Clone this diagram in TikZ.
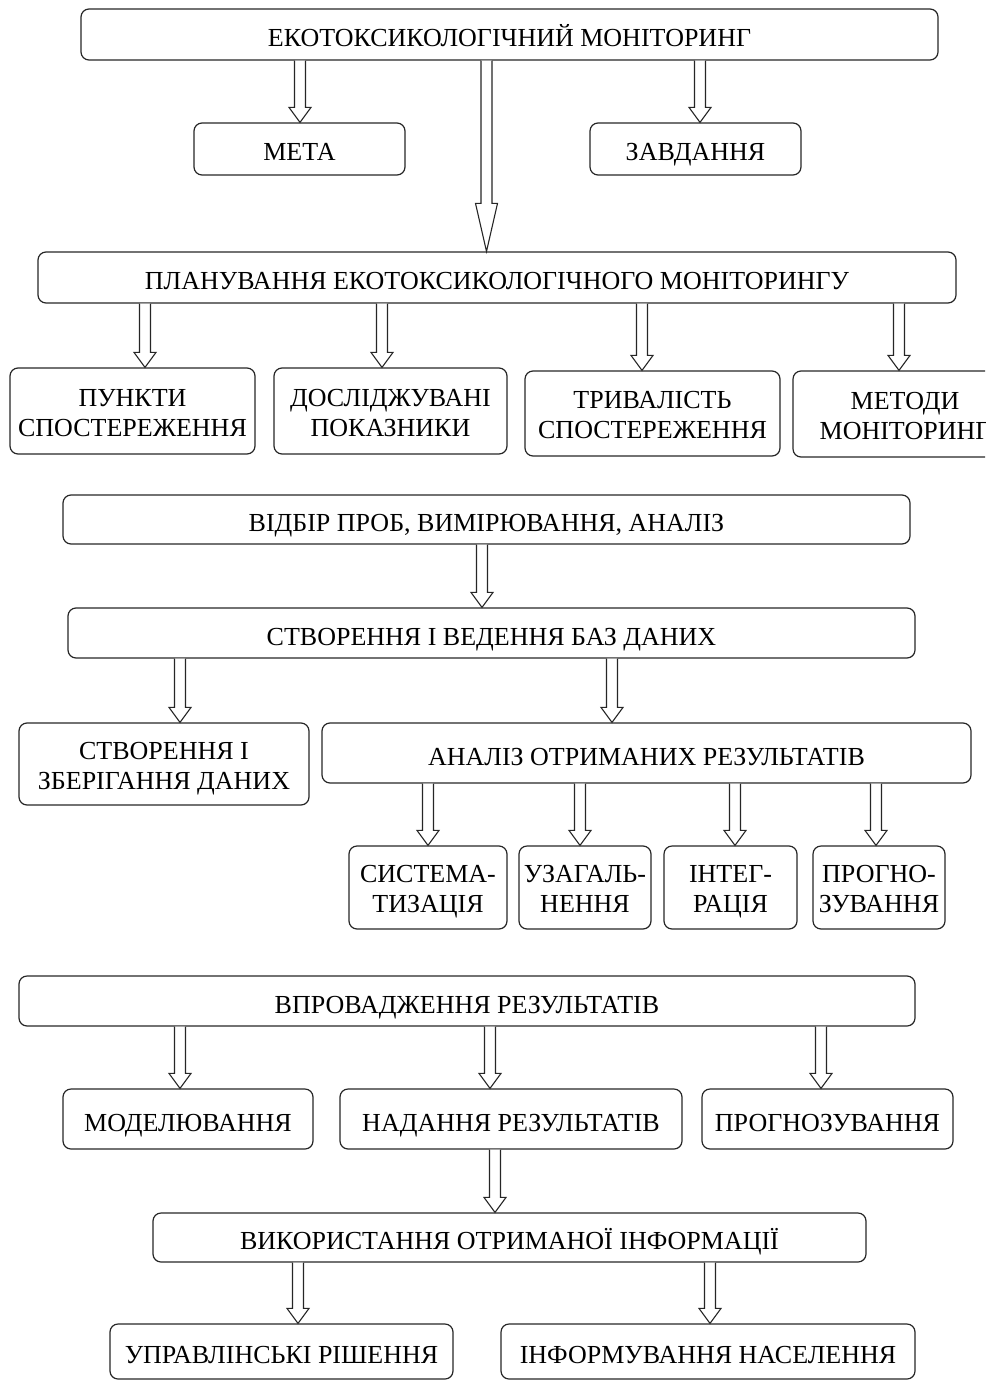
\documentclass[tikz,border=0pt]{standalone}
\usepackage{fontspec}
\setmainfont{Liberation Serif}
\usetikzlibrary{calc}
\newcommand\barr[4][15]{%
  \draw[barrowstyle] let \p1=(#3.south), \p2=(#4.north) in
    ({#2pt-5.5pt},\y1) -- ({#2pt-5.5pt},{\y2+#1pt}) -- ({#2pt-11pt},{\y2+#1pt})
    -- ({#2pt},\y2) -- ({#2pt+11pt},{\y2+#1pt}) -- ({#2pt+5.5pt},{\y2+#1pt})
    -- ({#2pt+5.5pt},\y1);}
\newcommand\toprule{\rule{0pt}{31pt}}
\newcommand\toprulet{\rule{0pt}{57pt}}
\newcommand\botrule{\rule[-7pt]{0pt}{0pt}}
\begin{document}
\begin{tikzpicture}[x=1pt,y=-1pt,
  box/.style={draw=black!85, line width=1.2pt, rounded corners=8pt,
    font=\fontsize{26}{30}\selectfont, align=center, inner sep=0pt,
    execute at begin node=\toprule, execute at end node=\botrule},
  two/.style={execute at begin node=\toprulet},
  barrowstyle/.style={draw=black!85, line width=1.1pt, fill=white, line join=miter}]
\path[use as bounding box, clip] (0,0) rectangle (985,1380);
% boxes
\node[box, minimum width=857, minimum height=51] (top) at (509.5,34.5) {ЕКОТОКСИКОЛОГІЧНИЙ МОНІТОРИНГ};
\node[box, minimum width=211, minimum height=52] (meta) at (299.5,149) {МЕТА};
\node[box, minimum width=211, minimum height=52] (zavd) at (695.5,149) {ЗАВДАННЯ};
\node[box, minimum width=918, minimum height=51] (plan) at (497,277.5) {ПЛАНУВАННЯ ЕКОТОКСИКОЛОГІЧНОГО МОНІТОРИНГУ};
\node[box, two, minimum width=245, minimum height=86] (punkty) at (132.5,411) {ПУНКТИ\\СПОСТЕРЕЖЕННЯ};
\node[box, two, minimum width=233, minimum height=86] (dosl) at (390.5,411) {ДОСЛІДЖУВАНІ\\ПОКАЗНИКИ};
\node[box, two, minimum width=255, minimum height=85] (tryv) at (652.5,413.5) {ТРИВАЛІСТЬ\\СПОСТЕРЕЖЕННЯ};
\node[box, two, minimum width=224, minimum height=86] (metody) at (905,414) {МЕТОДИ\\МОНІТОРИНГ};
\node[box, minimum width=847, minimum height=49] (vidbir) at (486.5,519.5) {ВІДБІР ПРОБ, ВИМІРЮВАННЯ, АНАЛІЗ};
\node[box, minimum width=847, minimum height=50] (bazy) at (491.5,633) {СТВОРЕННЯ І ВЕДЕННЯ БАЗ ДАНИХ};
\node[box, two, minimum width=290, minimum height=82] (zber) at (164,764) {СТВОРЕННЯ І\\ЗБЕРІГАННЯ ДАНИХ};
\node[box, minimum width=649, minimum height=60] (analiz) at (646.5,753) {АНАЛІЗ ОТРИМАНИХ РЕЗУЛЬТАТІВ};
\node[box, two, minimum width=158, minimum height=83] (sys) at (428,887.5) {СИСТЕМА-\\ТИЗАЦІЯ};
\node[box, two, minimum width=132, minimum height=83] (uzag) at (585,887.5) {УЗАГАЛЬ-\\НЕННЯ};
\node[box, two, minimum width=133, minimum height=83] (integ) at (730.5,887.5) {ІНТЕГ-\\РАЦІЯ};
\node[box, two, minimum width=132, minimum height=83] (progn) at (879,887.5) {ПРОГНО-\\ЗУВАННЯ};
\node[box, minimum width=896, minimum height=50] (vprov) at (467,1001) {ВПРОВАДЖЕННЯ РЕЗУЛЬТАТІВ};
\node[box, minimum width=250, minimum height=60] (model) at (188,1119) {МОДЕЛЮВАННЯ};
\node[box, minimum width=342, minimum height=60] (nadan) at (511,1119) {НАДАННЯ РЕЗУЛЬТАТІВ};
\node[box, minimum width=251, minimum height=60] (prognoz) at (827.5,1119) {ПРОГНОЗУВАННЯ};
\node[box, minimum width=713, minimum height=49] (vykor) at (509.5,1237.5) {ВИКОРИСТАННЯ ОТРИМАНОЇ ІНФОРМАЦІЇ};
\node[box, minimum width=343, minimum height=55] (upr) at (281.5,1351.5) {УПРАВЛІНСЬКІ РІШЕННЯ};
\node[box, minimum width=414, minimum height=55] (inform) at (708,1351.5) {ІНФОРМУВАННЯ НАСЕЛЕННЯ};
% block arrows
\barr{300}{top}{meta}
\barr{700}{top}{zavd}
\barr[48]{486.5}{top}{plan}
\barr{145}{plan}{punkty}
\barr{382}{plan}{dosl}
\barr{642}{plan}{tryv}
\barr{899}{plan}{metody}
\barr{482}{vidbir}{bazy}
\barr{180}{bazy}{zber}
\barr{612}{bazy}{analiz}
\barr{428}{analiz}{sys}
\barr{580}{analiz}{uzag}
\barr{735}{analiz}{integ}
\barr{876}{analiz}{progn}
\barr{180}{vprov}{model}
\barr{490}{vprov}{nadan}
\barr{821}{vprov}{prognoz}
\barr{495}{nadan}{vykor}
\barr{298}{vykor}{upr}
\barr{710}{vykor}{inform}
\end{tikzpicture}
\end{document}
